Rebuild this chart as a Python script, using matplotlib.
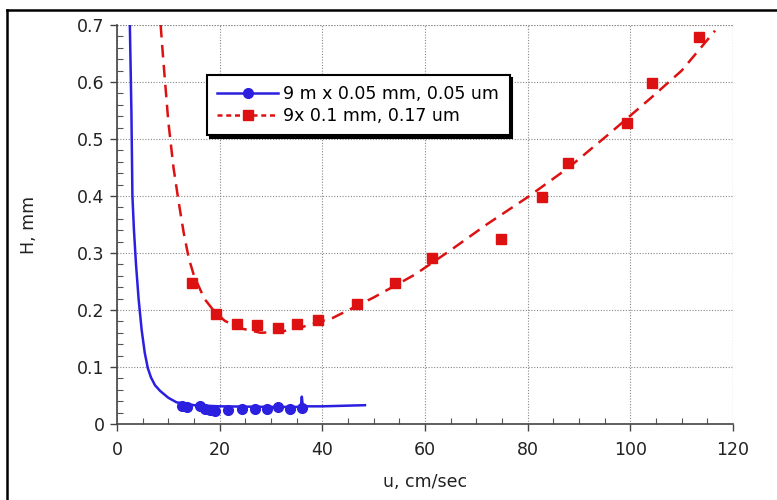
import numpy as np
import matplotlib
matplotlib.use("Agg")
import matplotlib.pyplot as plt
from matplotlib.lines import Line2D
from matplotlib.ticker import MultipleLocator

plt.rcParams['font.family'] = ['DejaVu Sans']

# --- data ---
# column 1: 9 m x 0.05 mm, 0.05 um (measured points)
u_blue = [12.6, 13.6, 16.2, 17.1, 18.2, 19.1, 21.7, 24.3, 26.9, 29.2, 31.4, 33.7, 36.0]
h_blue = [0.032, 0.030, 0.031, 0.027, 0.024, 0.023, 0.024, 0.026, 0.027, 0.027, 0.029, 0.027, 0.028]
# column 1: fitted curve
u_blue_fit = [2.5, 2.8, 3.0, 3.3, 3.7, 4.2, 4.8, 5.4, 6.0, 6.6, 7.4, 8.4, 10.0, 11.6, 15.0, 20.0, 30.0,
              35.8, 36.0, 36.2, 40.0, 48.3]
h_blue_fit = [0.70, 0.55, 0.40, 0.34, 0.28, 0.22, 0.165, 0.125, 0.098, 0.082, 0.068, 0.058, 0.046,
              0.038, 0.033, 0.031, 0.030, 0.030, 0.048, 0.031, 0.031, 0.033]

# column 2: 9x 0.1 mm, 0.17 um (measured points)
u_red = [14.6, 19.3, 23.4, 27.3, 31.4, 35.0, 39.2, 46.7, 54.2, 61.4, 74.8, 82.8, 87.9, 99.3, 104.2, 113.4]
h_red = [0.247, 0.193, 0.175, 0.174, 0.168, 0.175, 0.182, 0.210, 0.247, 0.291, 0.324, 0.398, 0.458,
         0.528, 0.598, 0.679]
# column 2: fitted curve
u_red_fit = [8.5, 9.0, 10.0, 11.0, 12.0, 13.0, 14.0, 15.0, 17.0, 19.0, 21.0, 24.0, 28.0, 32.0, 36.0,
             42.0, 50.0, 58.0, 65.0, 72.0, 80.0, 88.0, 96.0, 104.0, 110.0, 116.5]
h_red_fit = [0.70, 0.64, 0.53, 0.45, 0.39, 0.335, 0.29, 0.26, 0.22, 0.197, 0.181, 0.168, 0.160, 0.162,
             0.170, 0.186, 0.222, 0.262, 0.305, 0.350, 0.398, 0.450, 0.510, 0.572, 0.620, 0.690]

labels = ['9 m x 0.05 mm, 0.05 um', '9x 0.1 mm, 0.17 um']

blue = '#2b1fe0'
red = '#dd1111'
grid_style = dict(color='#888888', lw=0.8, linestyle=(0, (1, 1.5)))

fig = plt.figure(figsize=(7.77, 5.0), dpi=100)
ax = fig.add_axes([0.1506, 0.152, 0.7928, 0.798])

ax.plot(u_blue_fit, h_blue_fit, color=blue, lw=1.8, zorder=3)
ax.plot(u_blue, h_blue, 'o', color=blue, ms=7, zorder=4)
ax.plot(u_red_fit, h_red_fit, color=red, lw=1.8, dashes=(5, 3), zorder=3)
ax.plot(u_red, h_red, 's', color=red, ms=7, zorder=4)

ax.set_xlim(0, 120)
ax.set_ylim(0, 0.7)
ax.xaxis.set_major_locator(MultipleLocator(20))
ax.xaxis.set_minor_locator(MultipleLocator(5))
ax.yaxis.set_major_locator(MultipleLocator(0.1))
ax.yaxis.set_minor_locator(MultipleLocator(0.02))
ax.yaxis.set_major_formatter(plt.FuncFormatter(lambda v, p: '0' if abs(v) < 1e-9 else f'{v:.1f}'))

ax.tick_params(which='major', direction='out', length=5, width=1, color='#444444',
               labelsize=12.5, labelcolor='#222222')
ax.tick_params(axis='x', which='major', pad=7)
ax.tick_params(axis='y', which='major', pad=4)
ax.tick_params(which='minor', direction='in', length=4, width=0.8, color='#555555')

for s in ['top', 'right']:
    ax.spines[s].set_visible(False)
for s in ['left', 'bottom']:
    ax.spines[s].set_color('#444444')
    ax.spines[s].set_linewidth(1.2)

ax.grid(True, which='major', **grid_style)
# dotted lines along the far edges
ax.axvline(120, zorder=1, **grid_style)
ax.axhline(0.7, zorder=1, **grid_style)

ax.set_xlabel('u, cm/sec', fontsize=12.5, color='#222222', labelpad=10)
ax.set_ylabel('H, mm', fontsize=12.5, color='#222222', labelpad=28)

handles = [
    Line2D([], [], color=blue, lw=1.8, marker='o', ms=7),
    Line2D([], [], color=red, lw=1.8, dashes=(2, 1.5), marker='s', ms=7),
]
leg = ax.legend(handles, labels,
                loc='upper left', bbox_to_anchor=(0.146, 0.875), fontsize=12.5,
                frameon=True, fancybox=False, shadow={'color': 'black', 'alpha': 1},
                handlelength=3.5, handletextpad=0.3, borderpad=0.6, labelspacing=0.2,
                borderaxespad=0)
leg.get_frame().set_edgecolor('black')
leg.get_frame().set_linewidth(1.5)
leg.get_frame().set_alpha(1)

# outer black frame of the scan
fig.add_artist(Line2D([7 / 777, 7 / 777], [0, 1 - 10 / 500], color='black', lw=1.8,
                      transform=fig.transFigure))
fig.add_artist(Line2D([7 / 777, 1], [1 - 10 / 500, 1 - 10 / 500], color='black', lw=1.8,
                      transform=fig.transFigure))

fig.savefig('out.png', dpi=100)
